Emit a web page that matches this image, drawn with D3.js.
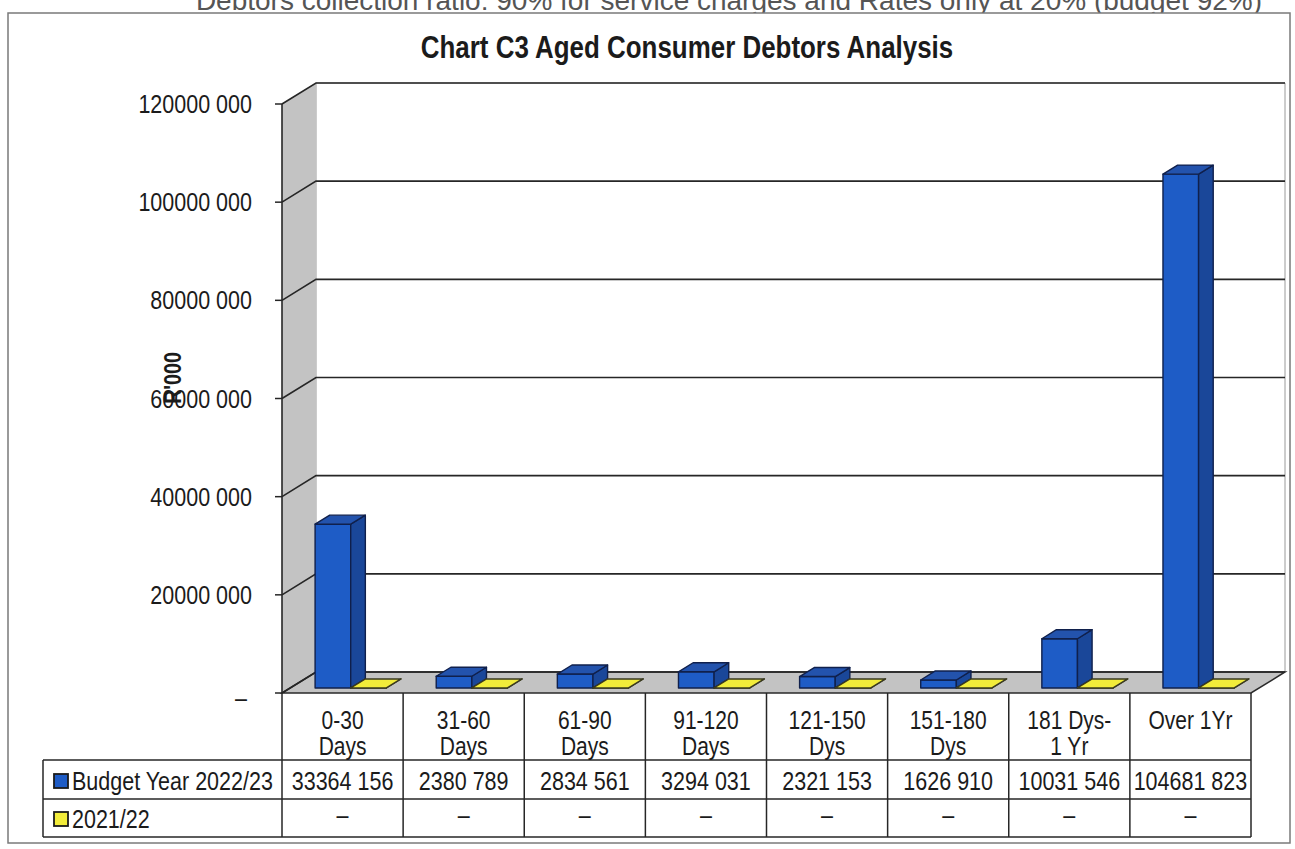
<!DOCTYPE html>
<html>
<head>
<meta charset="utf-8">
<script src="https://cdn.jsdelivr.net/npm/d3@7"></script>
<style>
  body { margin: 0; background: #fff; }
  svg text { font-family: "Liberation Sans Narrow", "Arial Narrow", "Liberation Sans", Arial, sans-serif; fill: #1b1b1b; }
</style>
</head>
<body>
<svg id="chart" width="1295" height="849"></svg>
<script>
// Aged consumer debtors by age bucket (Rand)
const categories = ["0-30\nDays", "31-60\nDays", "61-90\nDays", "91-120\nDays", "121-150\nDys", "151-180\nDys", "181 Dys-\n1 Yr", "Over 1Yr"];
const seriesNames = ["Budget Year 2022/23", "2021/22"];
const budget2022 = [33364156, 2380789, 2834561, 3294031, 2321153, 1626910, 10031546, 104681823];
const prior2021 = [0, 0, 0, 0, 0, 0, 0, 0];
const yTickValues = [0, 20000000, 40000000, 60000000, 80000000, 100000000, 120000000];
const titleText = "Chart C3 Aged Consumer Debtors Analysis";
const noteText = "Debtors collection ratio: 90% for service charges and Rates only at 20% (budget 92%)";
const axisUnit = "R'000";

const svg = d3.select("#chart");

// number format used in the sheet: "33364 156", zero shown as a dash
const fmt = v => v === 0 ? "–" : `${Math.floor(v / 1000)} ${String(v % 1000).padStart(3, "0")}`;

// condensed lettering: squeeze each text to a fraction of its natural width
function narrow(sel, f) {
  sel.each(function () {
    const len = this.getComputedTextLength();
    d3.select(this).attr("textLength", len * f).attr("lengthAdjust", "spacingAndGlyphs");
  });
  return sel;
}
const NARROW = 0.84;

// front plane of the 3-D box and the depth offset
const plot = { left: 282, right: 1251, bottom: 693, top: 104 };
const DX = 34, DY = -21;

const y = d3.scaleLinear().domain([0, 120000000]).range([plot.bottom, plot.top]);
const x = d3.scaleBand().domain(categories).range([plot.left, plot.right]);
const xs = d3.scaleBand().domain(seriesNames).range([0, x.bandwidth()]).paddingOuter(0.7);

const P = (px, v, z) => [px + z * DX, y(v) + z * DY];
const poly = pts => "M" + pts.map(p => p.join(",")).join("L") + "Z";

// note line running off the top of the page
svg.append("text")
  .attr("x", 1262).attr("y", 10)
  .attr("text-anchor", "end")
  .style("font-family", "'Liberation Sans', Arial, sans-serif")
  .style("font-size", "28px")
  .style("fill", "#555")
  .text(noteText);

// chart frame
svg.append("rect")
  .attr("x", 8).attr("y", 13).attr("width", 1282).attr("height", 830)
  .attr("fill", "#fff").attr("stroke", "#7a7a7a").attr("stroke-width", 1.5);

// title
narrow(svg.append("text")
  .attr("x", 687).attr("y", 58)
  .attr("text-anchor", "middle")
  .style("font-size", "32px").style("font-weight", "bold")
  .text(titleText), 0.81);

const vMax = y.domain()[1];
const box = svg.append("g");

// back wall
box.append("path")
  .attr("d", poly([P(plot.left, vMax, 1), P(plot.right, vMax, 1), P(plot.right, 0, 1), P(plot.left, 0, 1)]))
  .attr("fill", "#fff").attr("stroke", "#9a9a9a").attr("stroke-width", 1);

// side wall
box.append("path")
  .attr("d", poly([P(plot.left, 0, 0), P(plot.left, 0, 1), P(plot.left, vMax, 1), P(plot.left, vMax, 0)]))
  .attr("fill", "#c3c3c3").attr("stroke", "none");

// floor
box.append("path")
  .attr("d", poly([P(plot.left, 0, 0), P(plot.right, 0, 0), P(plot.right, 0, 1), P(plot.left, 0, 1)]))
  .attr("fill", "#c3c3c3").attr("stroke", "#2a2a2a").attr("stroke-width", 1.5);

// gridlines along side wall and back wall
box.selectAll(".grid").data(yTickValues).join("path")
  .attr("class", "grid")
  .attr("d", v => "M" + [P(plot.left, v, 0), P(plot.left, v, 1), P(plot.right, v, 1)].map(p => p.join(",")).join("L"))
  .attr("fill", "none").attr("stroke", "#262626").attr("stroke-width", 1.6);

// side wall front edge
box.append("line")
  .attr("x1", plot.left).attr("x2", plot.left)
  .attr("y1", y(0)).attr("y2", y(vMax))
  .attr("stroke", "#262626").attr("stroke-width", 1.6);

// value axis ticks and labels
const yAxis = svg.append("g");
yAxis.selectAll("line").data(yTickValues).join("line")
  .attr("x1", plot.left - 7).attr("x2", plot.left)
  .attr("y1", d => y(d)).attr("y2", d => y(d))
  .attr("stroke", "#262626").attr("stroke-width", 1.5);
narrow(yAxis.selectAll("text").data(yTickValues).join("text")
  .attr("x", d => d === 0 ? 247 : 252)
  .attr("y", d => y(d) + (d === 0 ? 5 : 0))
  .attr("dy", "0.36em")
  .attr("text-anchor", "end")
  .style("font-size", "25px")
  .text(fmt), 0.86);

// unit label
narrow(svg.append("text")
  .attr("transform", "translate(181,378) rotate(-90)")
  .attr("text-anchor", "middle")
  .style("font-size", "24px").style("font-weight", "bold")
  .text(axisUnit), 0.82);

// bars
const z0 = 0.24, z1 = 0.67;
const styles = [
  { front: "#1e5cc6", side: "#1a4799", top: "#2353ad", stroke: "#10204c" },
  { front: "#f2ec3a", side: "#c9c22c", top: "#f2ec3a", stroke: "#3a3a20" }
];
const seriesData = [budget2022, prior2021];

const bars = svg.append("g");
categories.forEach((c, i) => {
  seriesNames.forEach((s, k) => {
    const v = seriesData[k][i];
    const xl = x(c) + xs(s), xr = xl + xs.bandwidth();
    const st = styles[k];
    const g = bars.append("g").attr("stroke", st.stroke).attr("stroke-width", 1.4).attr("stroke-linejoin", "round");
    g.append("path").attr("d", poly([P(xl, 0, z0), P(xr, 0, z0), P(xr, v, z0), P(xl, v, z0)])).attr("fill", st.front);
    g.append("path").attr("d", poly([P(xr, 0, z0), P(xr, 0, z1), P(xr, v, z1), P(xr, v, z0)])).attr("fill", st.side);
    g.append("path").attr("d", poly([P(xl, v, z0), P(xr, v, z0), P(xr, v, z1), P(xl, v, z1)])).attr("fill", st.top);
  });
});

// data table
const table = { left: 43, headTop: plot.bottom, row1: 760, row2: 799, bottom: 837 };
const tg = svg.append("g").attr("stroke", "#262626").attr("stroke-width", 1.5);
tg.append("line").attr("x1", table.left).attr("x2", plot.right).attr("y1", table.row1).attr("y2", table.row1);
tg.append("line").attr("x1", table.left).attr("x2", plot.right).attr("y1", table.row2).attr("y2", table.row2);
tg.append("line").attr("x1", table.left).attr("x2", plot.right).attr("y1", table.bottom).attr("y2", table.bottom);
tg.append("line").attr("x1", table.left).attr("x2", table.left).attr("y1", table.row1).attr("y2", table.bottom);
const colEdges = categories.map(c => x(c)).concat([plot.right]);
tg.selectAll(".col").data(colEdges).join("line")
  .attr("x1", d => d).attr("x2", d => d)
  .attr("y1", table.headTop).attr("y2", table.bottom);

// category headers, one text per line
const headLines = categories.flatMap(c => c.split("\n").map((ln, j) => ({ c, ln, j })));
narrow(svg.selectAll(".head").data(headLines).join("text")
  .attr("class", "head")
  .attr("x", d => x(d.c) + x.bandwidth() / 2)
  .attr("y", d => 729 + d.j * 26)
  .attr("text-anchor", "middle")
  .style("font-size", "25px")
  .text(d => d.ln), NARROW);

// legend keys, row labels and values
const rowBase = [790, 828];
seriesNames.forEach((s, k) => {
  svg.append("rect")
    .attr("x", 54).attr("y", rowBase[k] - 16).attr("width", 14).attr("height", 14)
    .attr("fill", styles[k].front).attr("stroke", "#1b1b1b").attr("stroke-width", 1.8);
  narrow(svg.append("text")
    .attr("x", 72).attr("y", rowBase[k])
    .style("font-size", "25px")
    .text(s), 0.86);
  narrow(svg.selectAll(".v" + k).data(seriesData[k]).join("text")
    .attr("class", "v" + k)
    .attr("x", (d, i) => x(categories[i]) + x.bandwidth() / 2)
    .attr("y", rowBase[k] - (k === 1 ? 4 : 0))
    .attr("text-anchor", "middle")
    .style("font-size", "25px")
    .text(fmt), 0.86);
});
</script>
</body>
</html>
